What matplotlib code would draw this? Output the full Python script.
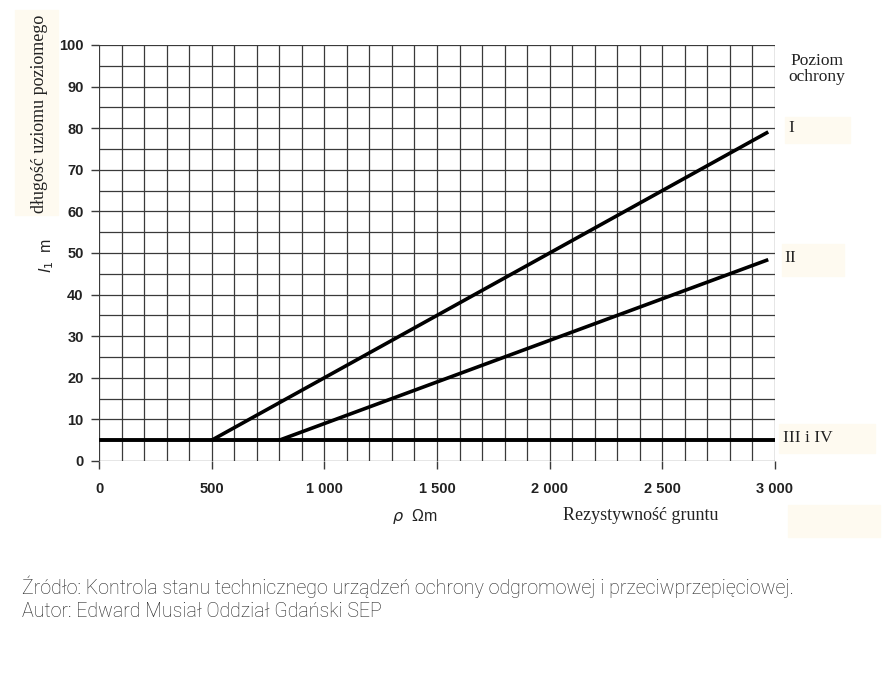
import numpy as np
import matplotlib
matplotlib.use('Agg')
import matplotlib.pyplot as plt
from matplotlib.patches import Rectangle

# dane z wykresu (rezystywność gruntu -> długość uziomu)
rho_I = [500, 2970]
l_I = [5, 79.1]
rho_II = [800, 2970]
l_II = [5, 48.4]
rho_III = [0, 3000]
l_III = [5, 5]

x_ticks = [0, 500, 1000, 1500, 2000, 2500, 3000]
x_labels = ['0', '500', '1 000', '1 500', '2 000', '2 500', '3 000']
y_ticks = [0, 10, 20, 30, 40, 50, 60, 70, 80, 90, 100]

W, H = 885, 690
fig = plt.figure(figsize=(W / 100, H / 100), dpi=100)
fig.patch.set_facecolor('white')

# beżowe plamy ze skanu
beige = '#fefaf0'
for (x0, y0, w, h) in [(15, 10, 43, 205), (785, 117, 65, 26), (782, 244, 62, 32),
                       (779, 424, 96, 29), (788, 505, 92, 32)]:
    fig.patches.append(Rectangle((x0 / W, 1 - (y0 + h) / H), w / W, h / H,
                                 transform=fig.transFigure, color=beige, zorder=0))

ax = fig.add_axes([99 / W, 1 - 461 / H, (775 - 99) / W, (461 - 45) / H])
ax.set_xlim(0, 3000)
ax.set_ylim(0, 100)
ax.set_facecolor('none')

grid_c = '#3a3a3a'
for xv in range(0, 3001, 100):
    ax.axvline(xv, color=grid_c, lw=0.9, zorder=1)
for yv in range(0, 101, 5):
    ax.axhline(yv, color=grid_c, lw=0.9, zorder=1)
for s in ax.spines.values():
    s.set_visible(False)

ax.plot(rho_I, l_I, color='black', lw=2.6, solid_capstyle='butt', zorder=3)
ax.plot(rho_II, l_II, color='black', lw=2.6, solid_capstyle='butt', zorder=3)
ax.plot(rho_III, l_III, color='black', lw=2.8, solid_capstyle='butt', zorder=3)

ax.set_xticks(x_ticks)
ax.set_xticklabels(x_labels)
ax.set_yticks(y_ticks)
ax.tick_params(axis='x', length=6, width=1, color=grid_c, pad=9,
               labelsize=10.5, labelcolor='#222222')
ax.tick_params(axis='y', length=6, width=1, color=grid_c, pad=5,
               labelsize=10.5, labelcolor='#222222')
for lab in ax.get_xticklabels() + ax.get_yticklabels():
    lab.set_family('Liberation Sans')
    lab.set_fontweight('bold')

serif = 'Liberation Serif'
fig.text(40 / W, 1 - 114 / H, 'długość uziomu poziomego', rotation=90,
         ha='center', va='center', family=serif, fontsize=13, color='#222222')
fig.text(47 / W, 1 - 255 / H, r'$l_1$  m', rotation=90, ha='center', va='center',
         family='Liberation Sans', fontsize=11.5, color='#222222')
fig.text(415 / W, 1 - 516 / H, r'$\rho$  Ωm', ha='center', va='center',
         family='Liberation Sans', fontsize=11.5, color='#222222')
fig.text(641 / W, 1 - 515 / H, 'Rezystywność gruntu', ha='center', va='center',
         family=serif, fontsize=13, color='#222222')
fig.text(817 / W, 1 - 69 / H, 'Poziom\nochrony', ha='center', va='center',
         family=serif, fontsize=12.5, color='#222222', linespacing=1.05)
fig.text(788 / W, 1 - 128 / H, 'I', ha='left', va='center', family=serif,
         fontsize=12.5, color='#222222')
fig.text(784 / W, 1 - 258 / H, 'II', ha='left', va='center', family=serif,
         fontsize=12.5, color='#222222')
fig.text(783 / W, 1 - 438 / H, 'III i IV', ha='left', va='center', family=serif,
         fontsize=12.5, color='#222222')

cap = 'Źródło: Kontrola stanu technicznego urządzeń ochrony odgromowej i przeciwprzepięciowej.\nAutor: Edward Musiał Oddział Gdański SEP'
fig.text(22 / W, 1 - 598 / H, cap, ha='left', va='center', family='Roboto',
         fontweight='light', fontsize=14.1, color='#222222', linespacing=1.25)

fig.savefig('out.png', dpi=100)
